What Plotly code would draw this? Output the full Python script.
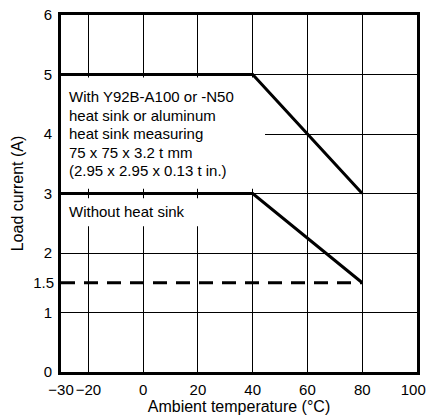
import plotly.graph_objects as go

# Data
with_sink_x = [-30, 40, 80]
with_sink_y = [5, 5, 3]
without_sink_x = [-30, 40, 80]
without_sink_y = [3, 3, 1.5]
dashed_x = [-30, 80]
dashed_y = [1.5, 1.5]

x_tickvals = [-30, -20, 0, 20, 40, 60, 80, 100]
x_ticktext = ["\u221230", "\u221220", "0", "20", "40", "60", "80", "100\u2002"]
y_tickvals = [0, 1, 2, 3, 4, 5, 6]
y_extra_tick = [1.5]

label_with_lines = ["With Y92B-A100 or -N50", "heat sink or aluminum",
                    "heat sink measuring", "75 x 75 x 3.2 t mm",
                    "(2.95 x 2.95 x 0.13 t in.)"]
label_without = "Without heat sink"

FONT = "Arial, Liberation Sans, sans-serif"
CLEAR = "rgba(0,0,0,0)"

fig = go.Figure()
fig.add_trace(go.Scatter(x=with_sink_x, y=with_sink_y, mode="lines",
                         line=dict(color="black", width=3), showlegend=False))
fig.add_trace(go.Scatter(x=without_sink_x, y=without_sink_y, mode="lines",
                         line=dict(color="black", width=3), showlegend=False))
fig.add_trace(go.Scatter(x=dashed_x, y=dashed_y, mode="lines",
                         line=dict(color="black", width=3, dash="14px,9px"),
                         showlegend=False))
# invisible trace for the secondary y axis (1.5 label)
fig.add_trace(go.Scatter(x=[None], y=[None], yaxis="y2", showlegend=False))

# white masks behind the labels (between grid and traces)
fig.add_shape(type="rect", xref="x", yref="y", x0=-30, x1=44.5, y0=3.08, y1=4.95,
              fillcolor="white", line=dict(width=0), layer="between")
fig.add_shape(type="rect", xref="x", yref="y", x0=-30, x1=37, y0=2.45, y1=2.92,
              fillcolor="white", line=dict(width=0), layer="between")

for i, line_text in enumerate(label_with_lines):
    fig.add_annotation(x=-30, y=5, xref="x", yref="y", text=line_text, showarrow=False,
                       xanchor="left", yanchor="middle", align="left",
                       xshift=6, yshift=-(22 + 18.5 * i),
                       font=dict(family=FONT, size=15, color="black"))
fig.add_annotation(x=-30, y=3, xref="x", yref="y", text=label_without, showarrow=False,
                   xanchor="left", yanchor="middle", align="left", xshift=6, yshift=-18,
                   font=dict(family=FONT, size=15, color="black"))

fig.update_layout(
    width=427, height=419,
    margin=dict(l=61, r=10, t=15, b=47),
    paper_bgcolor="white", plot_bgcolor="white",
    font=dict(family=FONT, size=15, color="black"),
    xaxis=dict(range=[-30, 100], tickvals=x_tickvals, ticktext=x_ticktext,
               tickangle=0, ticklabeloverflow="allow",
               showgrid=True, gridcolor="black", gridwidth=1, zeroline=False,
               showline=True, linecolor="black", linewidth=3, mirror=True,
               ticks="outside", ticklen=2, tickcolor=CLEAR, automargin=False,
               tickfont=dict(size=15),
               title=dict(text="Ambient temperature (\u00b0C)", standoff=3,
                          font=dict(size=16))),
    yaxis=dict(range=[0, 6], tickvals=y_tickvals, ticklabeloverflow="allow",
               showgrid=True, gridcolor="black", gridwidth=1, zeroline=False,
               showline=True, linecolor="black", linewidth=3, mirror=True,
               ticks="outside", ticklen=3, tickcolor=CLEAR, automargin=False,
               tickfont=dict(size=15),
               title=dict(text="Load current (A)", standoff=17,
                          font=dict(size=16))),
    yaxis2=dict(range=[0, 6], overlaying="y", side="left", tickvals=y_extra_tick,
                ticktext=["1.5"], showgrid=False, zeroline=False, showline=False,
                ticks="outside", ticklen=3, tickcolor=CLEAR, automargin=False,
                ticklabeloverflow="allow", tickfont=dict(size=15)),
)

fig.write_html("out.html",
               config={"displayModeBar": False},
               post_script="document.body.style.margin='0';"
                           "document.body.style.overflow='hidden';")
